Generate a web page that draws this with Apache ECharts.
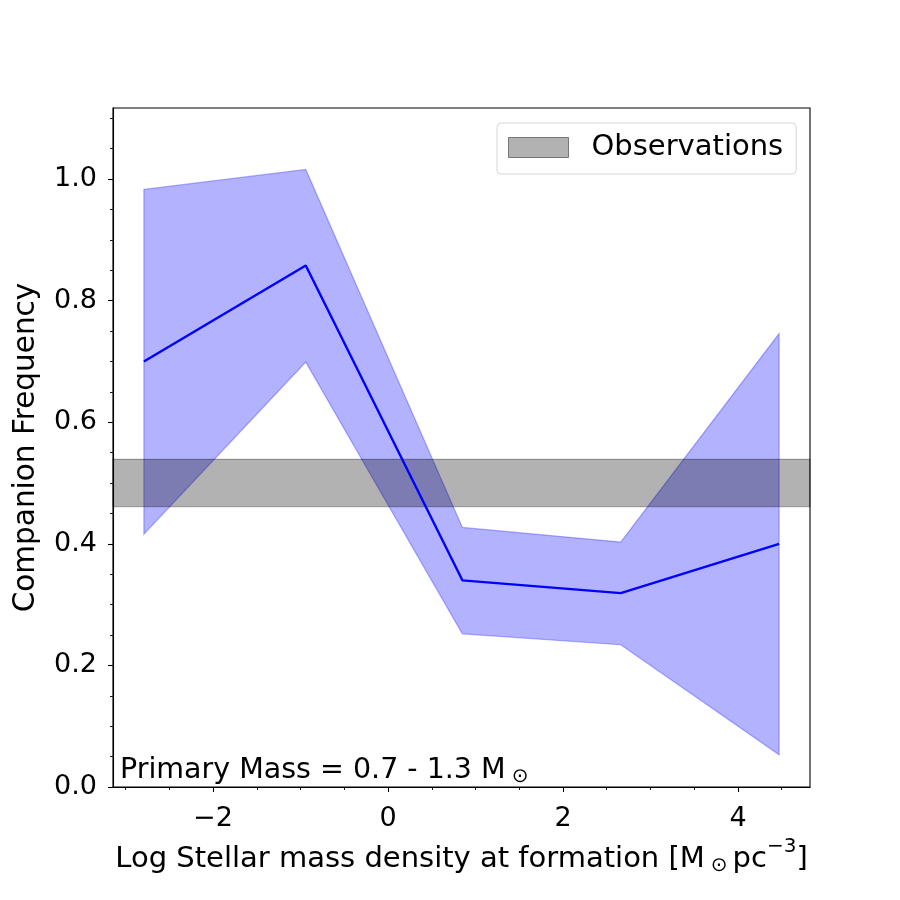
<!DOCTYPE html>
<html>
<head>
<meta charset="utf-8">
<script src="https://cdn.jsdelivr.net/npm/echarts@6/dist/echarts.min.js"></script>
<style>
  html, body { margin: 0; padding: 0; background: #fff; }
  #chart { width: 900px; height: 900px; }
</style>
</head>
<body>
<div id="chart"></div>
<script>
// bin centres (log stellar mass density) and companion frequency
var xBins = [-2.79, -0.94, 0.85, 2.66, 4.47];
var freq = [0.700, 0.858, 0.340, 0.319, 0.400];
var upper = [0.983, 1.016, 0.427, 0.403, 0.746];
var lower = [0.416, 0.699, 0.252, 0.234, 0.053];

// observed range
var obsLow = 0.461;
var obsHigh = 0.539;

// axis limits and ticks
var xMin = -3.143, xMax = 4.823;
var yMin = 0, yMax = 1.117;
var xMajor = [-2, 0, 2, 4];
var xMinor = [-3, -2.5, -1.5, -1, -0.5, 0.5, 1, 1.5, 2.5, 3, 3.5, 4.5];
var yMajor = [0, 0.2, 0.4, 0.6, 0.8, 1.0];
var yMinor = [0.05, 0.1, 0.15, 0.25, 0.3, 0.35, 0.45, 0.5, 0.55, 0.65, 0.7, 0.75,
              0.85, 0.9, 0.95, 1.05, 1.1];

var FONT = 'DejaVu Sans';

function minusFmt(v) {
    return v < 0 ? '\u2212' + Math.abs(v) : String(v);
}

// rich text pieces for M_sun and superscripts (all bottom aligned, padding sets the shift)
function mathRich(size) {
    var small = Math.round(size * 0.69);
    return {
        a: { fontSize: size, lineHeight: size + 5, fontFamily: FONT, color: '#000', fill: '#000',
             verticalAlign: 'bottom', padding: [0, 0, 5, 0] },
        s: { fontSize: small, lineHeight: small, fontFamily: FONT, color: '#000', fill: '#000',
             verticalAlign: 'bottom', padding: [0, 5, 3, 6] },
        p: { fontSize: small, lineHeight: small, fontFamily: FONT, color: '#000', fill: '#000',
             verticalAlign: 'bottom', padding: [0, 0, 22, 0] }
    };
}

function bandItem(params, api) {
    if (params.dataIndex !== 0) return null;
    var pts = [];
    for (var i = 0; i < xBins.length; i++) pts.push(api.coord([xBins[i], upper[i]]));
    for (var j = xBins.length - 1; j >= 0; j--) pts.push(api.coord([xBins[j], lower[j]]));
    return {
        type: 'polygon',
        shape: { points: pts },
        style: { fill: 'rgba(0,0,255,0.3)', stroke: 'rgba(0,0,255,0.3)', lineWidth: 1.2 }
    };
}

function obsItem(params, api) {
    var p1 = api.coord([xMin, obsHigh]);
    var p2 = api.coord([xMax, obsLow]);
    return {
        type: 'rect',
        shape: { x: p1[0], y: p1[1], width: p2[0] - p1[0], height: p2[1] - p1[1] },
        style: { fill: 'rgba(0,0,0,0.3)', stroke: 'rgba(0,0,0,0.3)', lineWidth: 1.2 }
    };
}

var chart = echarts.init(document.getElementById('chart'));

var option = {
    animation: false,
    backgroundColor: '#fff',
    textStyle: { fontFamily: FONT },
    grid: {
        left: 113, right: 90, top: 108, bottom: 113,
        show: true, borderColor: '#000', borderWidth: 1.1, backgroundColor: 'transparent'
    },
    legend: {
        left: 497, top: 123,
        padding: [10, 13, 12, 11],
        borderColor: '#d6d6d6', borderWidth: 1, borderRadius: 4,
        backgroundColor: 'rgba(255,255,255,0.8)',
        itemWidth: 60, itemHeight: 20,
        selectedMode: false,
        textStyle: { fontSize: 29, color: '#000', fontFamily: FONT, padding: [0, 0, 0, 18] },
        data: [{
            name: 'Observations', icon: 'rect',
            itemStyle: { color: 'rgba(0,0,0,0.3)', borderColor: 'rgba(0,0,0,0.45)', borderWidth: 1 }
        }]
    },
    xAxis: [{
        type: 'value', min: xMin, max: xMax,
        splitLine: { show: false },
        axisLine: { show: true, onZero: false, lineStyle: { color: '#000', width: 1.1 } },
        axisTick: { show: true, customValues: xMajor, length: 5, lineStyle: { color: '#000', width: 1.1 } },
        axisLabel: { customValues: xMajor, formatter: minusFmt, fontSize: 27, color: '#000', margin: 18, fontFamily: FONT },
        name: '{a|Log Stellar mass density at formation [M}{s|\u2299}{a|pc}{p|\u22123}{a|]}',
        nameLocation: 'middle', nameGap: 50,
        nameTextStyle: { fontSize: 29, color: '#000', fontFamily: FONT, rich: mathRich(29) }
    }, {
        type: 'value', min: xMin, max: xMax, position: 'bottom',
        splitLine: { show: false },
        axisLine: { show: false, onZero: false },
        axisTick: { show: true, customValues: xMinor, length: 3, lineStyle: { color: '#000', width: 0.9 } },
        axisLabel: { show: false }
    }],
    yAxis: [{
        type: 'value', min: yMin, max: yMax,
        splitLine: { show: false },
        axisLine: { show: true, onZero: false, lineStyle: { color: '#000', width: 1.1 } },
        axisTick: { show: true, customValues: yMajor, length: 5, lineStyle: { color: '#000', width: 1.1 } },
        axisLabel: { customValues: yMajor, formatter: function (v) { return v.toFixed(1); },
                     fontSize: 27, color: '#000', margin: 16, fontFamily: FONT },
        name: 'Companion Frequency',
        nameLocation: 'middle', nameGap: 72, nameRotate: 90,
        nameTextStyle: { fontSize: 29.5, color: '#000', fontFamily: FONT }
    }, {
        type: 'value', min: yMin, max: yMax, position: 'left',
        splitLine: { show: false },
        axisLine: { show: false, onZero: false },
        axisTick: { show: true, customValues: yMinor, length: 3, lineStyle: { color: '#000', width: 0.9 } },
        axisLabel: { show: false }
    }],
    series: [{
        name: 'spread',
        type: 'custom',
        renderItem: bandItem,
        encode: { x: 0, y: [1, 2] },
        data: xBins.map(function (x, i) { return [x, upper[i], lower[i]]; }),
        z: 1, silent: true
    }, {
        name: 'Observations',
        type: 'custom',
        renderItem: obsItem,
        encode: { y: [0, 1] },
        data: [[obsLow, obsHigh]],
        itemStyle: { color: 'rgba(0,0,0,0.3)' },
        z: 2, silent: true
    }, {
        name: 'Companion frequency',
        type: 'line',
        data: xBins.map(function (x, i) { return [x, freq[i]]; }),
        showSymbol: false, symbol: 'none',
        lineStyle: { color: '#0000ff', width: 2.4 },
        itemStyle: { color: '#0000ff' },
        z: 3, silent: true
    }],
    graphic: [{
        type: 'text',
        left: 120, top: 756,
        style: {
            text: '{a|Primary Mass = 0.7 - 1.3 M}{s|\u2299}',
            fill: '#000',
            rich: mathRich(28.5)
        },
        z: 10
    }]
};

chart.setOption(option);
</script>
</body>
</html>
